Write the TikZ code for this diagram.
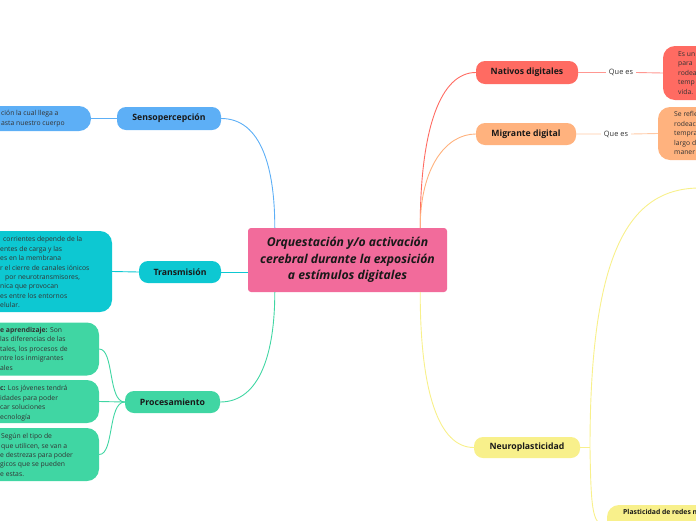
\documentclass[tikz,border=0pt]{standalone}
\usepackage{fontspec}
\setmainfont{Open Sans}
\usetikzlibrary{positioning}

\definecolor{rootpink}{HTML}{F26B9B}
\definecolor{sensblue}{HTML}{5DAFF6}
\definecolor{transteal}{HTML}{0DC8D2}
\definecolor{procgreen}{HTML}{40D6A3}
\definecolor{natred}{HTML}{FF6B62}
\definecolor{migorange}{HTML}{FFB27E}
\definecolor{neuroyellow}{HTML}{F8F08B}

\tikzset{
	root/.style={fill=rootpink, rounded corners=3pt, align=center, inner sep=0pt,
		font=\fontsize{12.2}{16.7}\bfseries\itshape, text=black!90},
	topic/.style={fill=#1, rounded corners=9pt, inner sep=0pt,
		font=\fontsize{8.7}{10}\bfseries, text=black!90},
	leaf/.style={fill=#1, rounded corners=12pt},
	leaftext/.style={anchor=north west, align=left, inner sep=0pt,
		font=\fontsize{6.8}{9.4}\selectfont, text=black!80},
	queso/.style={inner xsep=3pt, inner ysep=1pt, font=\fontsize{7.4}{8}\selectfont, text=black!80},
	link/.style={draw=#1, line width=0.9pt},
}

\begin{document}
\begin{tikzpicture}[x=1pt, y=-1pt]
		\useasboundingbox (0,0) rectangle (696,520);
\clip (0,0) rectangle (696,520);

\node[root, minimum width=199pt, minimum height=64pt] (root) at (347.5,260)
	{Orquestación y/o activación\\cerebral durante la exposición\\a estímulos digitales};

\node[topic=sensblue, minimum width=104pt, minimum height=23pt] (sens) at (169,118.5) {Sensopercepción};
\node[topic=transteal, minimum width=82pt, minimum height=22pt] (trans) at (180,272) {Transmisión};
\node[topic=procgreen, minimum width=95pt, minimum height=22pt] (proc) at (172.5,402) {Procesamiento};
\node[topic=natred, minimum width=102pt, minimum height=23pt] (nat) at (527,72.5) {Nativos digitales};
\node[topic=migorange, minimum width=100pt, minimum height=22pt] (mig) at (526,134) {Migrante digital};
\node[topic=neuroyellow, minimum width=106pt, minimum height=21pt] (neuro) at (527,447.5) {Neuroplasticidad};

\node[leaf=sensblue, minimum width=111pt, minimum height=25pt] (sensleaf) at (35.5,118.5) {};
\node[leaf=transteal, minimum width=132pt, minimum height=81pt] (transleaf) at (46,271.5) {};
\node[leaf=procgreen, minimum width=119pt, minimum height=53pt] (procleafa) at (39.5,349) {};
\node[leaf=procgreen, minimum width=119pt, minimum height=43pt] (procleafb) at (39.5,401.5) {};
\node[leaf=procgreen, minimum width=119pt, minimum height=53pt] (procleafc) at (39.5,454.5) {};
\node[leaf=natred, minimum width=67pt, minimum height=54pt] (natleaf) at (696.5,73) {};
\node[leaf=migorange, minimum width=72pt, minimum height=53pt] (migleaf) at (694,133.5) {};
\node[leaf=neuroyellow, minimum width=123pt, minimum height=40pt] (plast) at (668.5,525) {};

\node[leaftext] at (1,110.5) {ción la cual llega a\\asta nuestro cuerpo};
\node[leaftext] at (0,236.5) {\hspace*{3pt}corrientes depende de la\\entes de carga y las\\es en la membrana\\r el cierre de canales iónicos\\\hspace*{5pt}por neurotransmisores,\\nica que provocan\\es entre los entornos\\elular.};
\node[leaftext] at (0,327.2) {\textbf{e aprendizaje:} Son\\las diferencias de las\\tales, los procesos de\\ntre los inmigrantes\\ales};
\node[leaftext] at (0,385.5) {\textbf{c:} Los jóvenes tendrá\\idades para poder\\car soluciones\\ecnología};
\node[leaftext] at (0,433.2) {\hspace*{1pt}Según el tipo de\\\hspace*{1pt}que utilicen, se van a\\e destrezas para poder\\gicos que se pueden\\e estas.};
\node[leaftext] at (678,51.5) {Es un\\para\\rodea\\temp\\vida.};
\node[leaftext] at (674,111.5) {Se refle\\rodeac\\tempra\\largo d\\maner};
\node[leaftext, font=\fontsize{6.8}{9.4}\bfseries, text=black!90] at (623,509.5) {Plasticidad de redes n};

\node[queso] (qnat) at (621,72.5) {Que es};
\node[queso] (qmig) at (616,134) {Que es};

\coordinate (nb) at (590,447.5);
\coordinate (nup) at (700,188);

\draw[link=sensblue] (sens.east) .. controls +(40,0) and +(0,-60) .. ([xshift=27pt]root.north west);
\draw[link=transteal] (trans.east) .. controls +(14,0) and +(-14,0) .. ([yshift=-12pt]root.west);
\draw[link=procgreen] (proc.east) .. controls +(40,0) and +(0,60) .. ([xshift=27pt]root.south west);
\draw[link=natred] ([xshift=-27pt]root.north east) .. controls +(0,-100) and +(-35,0) .. (nat.west);
\draw[link=migorange] ([xshift=-27pt]root.north east) .. controls +(0,-60) and +(-30,0) .. (mig.west);
\draw[link=neuroyellow] ([xshift=-27pt]root.south east) .. controls +(0,100) and +(-35,0) .. (neuro.west);

\draw[link=sensblue] (sens.west) -- (sensleaf.east);
\draw[link=transteal] (trans.west) -- (transleaf.east);
\draw[link=procgreen] (proc.west) .. controls +(-17,0) and +(15,0) .. (procleafa.east);
\draw[link=procgreen] (proc.west) -- (procleafb.east);
\draw[link=procgreen] (proc.west) .. controls +(-17,0) and +(15,0) .. (procleafc.east);

\draw[link=natred!70] (nat.east) -- (qnat.west) (qnat.east) -- (natleaf.west);
\draw[link=migorange!70] (mig.east) -- (qmig.west) (qmig.east) -- (migleaf.west);

\draw[link=neuroyellow] (neuro.east) -- (nb);
\draw[link=neuroyellow] (nb) .. controls (590,250) and (630,188) .. (nup);
\draw[link=neuroyellow] (nb) .. controls (591,515) and (593,525) .. (plast.west);
	\end{tikzpicture}
\end{document}
